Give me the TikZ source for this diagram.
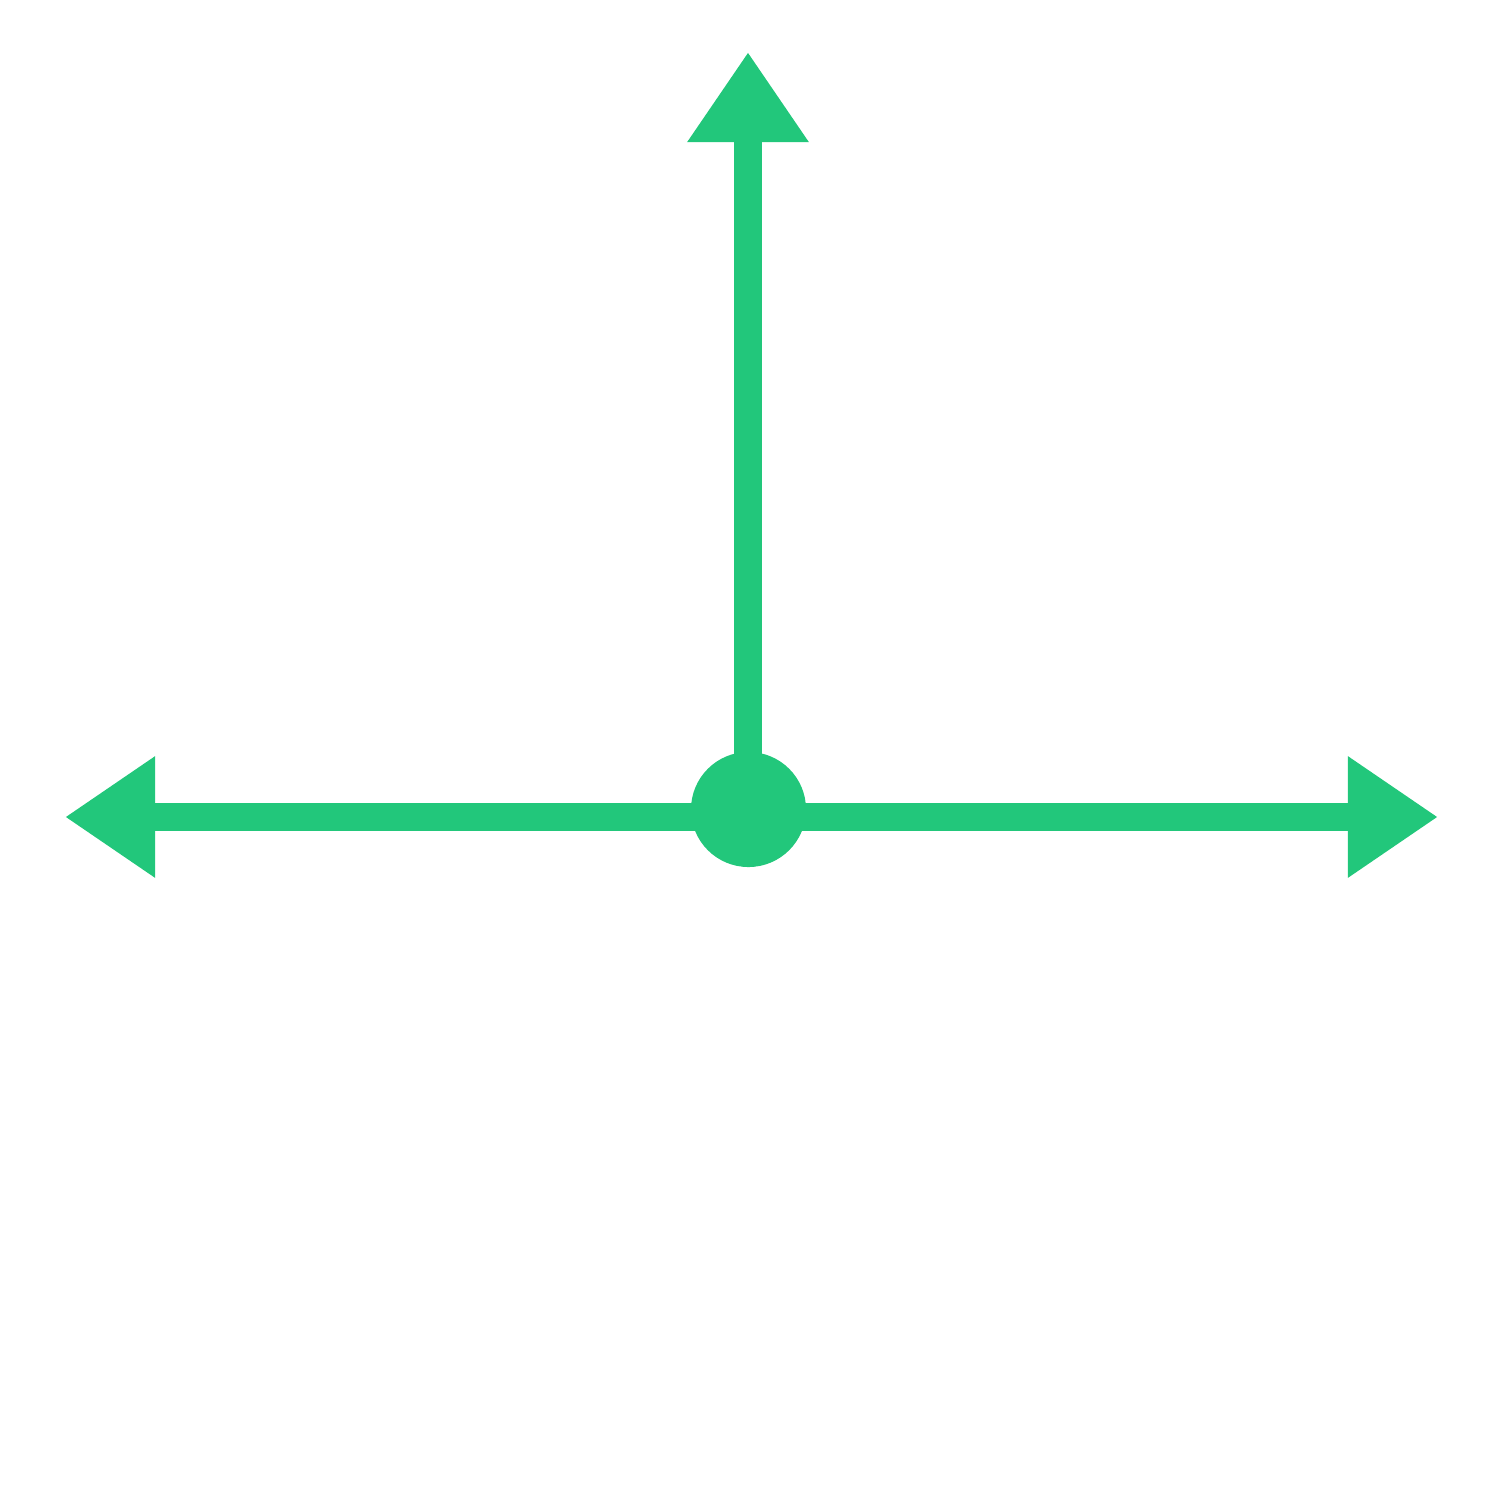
\documentclass[tikz,border=0pt]{standalone}
\usetikzlibrary{arrows.meta}
\definecolor{grn}{RGB}{34,199,123}
\begin{document}
\begin{tikzpicture}[x=0.01cm,y=-0.01cm,
  axis/.style={draw=grn,line width=0.28cm,-{Triangle[length=0.9cm,width=1.15cm]}},
  dot/.style={circle,fill=grn,minimum size=1.15cm,inner sep=0pt}]
\useasboundingbox (0,0) rectangle (1500,1500);
\coordinate (h) at (748,817);
\coordinate (v) at (748,800);
\coordinate (L) at (65,817);
\coordinate (R) at (1438,817);
\coordinate (T) at (748,52);
\draw[axis,fill=grn] (h) -- (L);
\draw[axis,fill=grn] (h) -- (R);
\draw[axis,fill=grn] (v) -- (T);
\node[dot] (c) at (748.5,809.5) {};
\end{tikzpicture}
\end{document}
